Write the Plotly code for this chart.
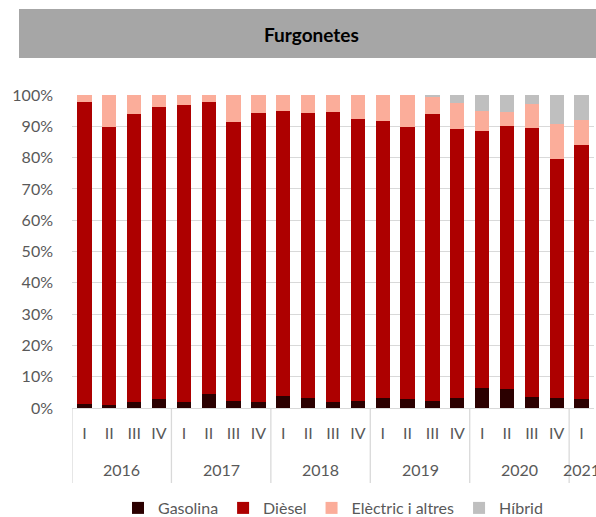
import plotly.graph_objects as go

years = ["2016"] * 4 + ["2017"] * 4 + ["2018"] * 4 + ["2019"] * 4 + ["2020"] * 4 + ["2021"]
quarters = ["I", "II", "III", "IV"] * 5 + ["I"]

gasolina = [1.2, 0.85, 1.8, 2.8, 1.9, 4.4, 2.1, 1.8, 3.7, 3.2, 1.8, 2.1, 3.3, 2.8, 2.1, 3.1, 6.5, 6.2, 3.4, 3.1, 2.9]
diesel = [96.5, 89.0, 92.0, 93.3, 94.9, 93.4, 89.4, 92.4, 91.1, 91.0, 92.8, 90.3, 88.5, 87.1, 91.9, 85.9, 81.9, 84.0, 86.1, 76.6, 81.0]
electric = [2.3, 10.1, 6.2, 3.9, 3.2, 2.2, 8.5, 5.8, 5.2, 5.8, 5.4, 7.6, 8.2, 10.1, 5.3, 8.5, 6.4, 4.5, 7.6, 11.1, 8.2]
hibrid = [0, 0, 0, 0, 0, 0, 0, 0, 0, 0, 0, 0, 0, 0, 0.7, 2.5, 5.2, 5.3, 2.9, 9.2, 7.9]

series = [
    ("Gasolina", gasolina, "#2b0000"),
    ("Dièsel", diesel, "#ad0000"),
    ("Elèctric i altres", electric, "#fbad9a"),
    ("Híbrid", hibrid, "#bfbfbf"),
]

FONT = "Lato, 'Open Sans', sans-serif"
TXT = "#595959"
GRID = "#d9d9d9"

# unique category keys, one per quarter
cats = [f"{y} {q}" for y, q in zip(years, quarters)]

# plot-area geometry in pixels
W, H = 596, 517
ML, MR, MT, MB = 72, 2, 95, 109
PW, PH = W - ML - MR, H - MT - MB


def py(pix):
    """pixel y (from top) -> paper y"""
    return (H - MB - pix) / PH


fig = go.Figure()
for name, vals, col in series:
    fig.add_trace(go.Bar(
        x=cats, y=vals, name=name,
        marker=dict(color=col, line=dict(width=0)),
    ))

# year groups: label at group centre, dividers at group boundaries
groups = []
for i, y in enumerate(years):
    if not groups or groups[-1][0] != y:
        groups.append([y, i, i])
    else:
        groups[-1][2] = i

shapes = [dict(
    type="rect", xref="paper", yref="paper",
    x0=-53 / PW, x1=1.01, y0=py(58), y1=py(9),
    fillcolor="#a6a6a6", line=dict(width=0), layer="below",
)]
annotations = [dict(
    text="<b>Furgonetes</b>", xref="paper", yref="paper",
    x=(311 - ML) / PW, y=py(34), xanchor="center", yanchor="middle",
    showarrow=False, font=dict(family=FONT, size=19, color="#000000"),
)]
bounds = [g[1] - 0.5 for g in groups] + [groups[-1][2] + 0.5]
for b in bounds[:-1]:
    shapes.append(dict(
        type="line", xref="x", yref="paper", x0=b, x1=b, y0=0, y1=py(483),
        line=dict(color=GRID, width=1.3), layer="above",
    ))
for y, i0, i1 in groups:
    annotations.append(dict(
        text=y, xref="x", yref="paper", x=(i0 + i1) / 2, y=py(470),
        xanchor="center", yanchor="middle", showarrow=False,
        font=dict(family=FONT, size=16, color=TXT),
    ))

fig.update_layout(
    barmode="stack",
    bargap=0.42,
    width=W, height=H,
    paper_bgcolor="white", plot_bgcolor="white",
    margin=dict(l=ML, r=MR, t=MT, b=MB, autoexpand=False),
    font=dict(family=FONT, size=16, color=TXT),
    showlegend=True,
    legend=dict(
        orientation="h", x=0.5, xanchor="center",
        yref="paper", y=py(508), yanchor="middle",
        font=dict(size=16, color=TXT), traceorder="normal",
        itemwidth=30,
    ),
    yaxis=dict(
        range=[0, 100], dtick=10, ticksuffix="%",
        showgrid=True, gridcolor=GRID, gridwidth=1.3,
        zeroline=False, showline=False, ticks="",
        ticklabelstandoff=18, automargin=False,
        tickfont=dict(size=16, color=TXT),
    ),
    xaxis=dict(
        type="category", range=[-0.5, len(cats) - 0.5],
        tickmode="array", tickvals=cats, ticktext=quarters,
        showline=True, linecolor=GRID, linewidth=1.3,
        ticks="", ticklabelstandoff=11, automargin=False,
        tickfont=dict(size=16, color=TXT),
        showgrid=False,
    ),
    shapes=shapes,
    annotations=annotations,
)

fig.write_html(
    "out.html",
    config={"displayModeBar": False},
    post_script="document.body.style.margin='0';document.body.style.overflow='hidden';",
)
